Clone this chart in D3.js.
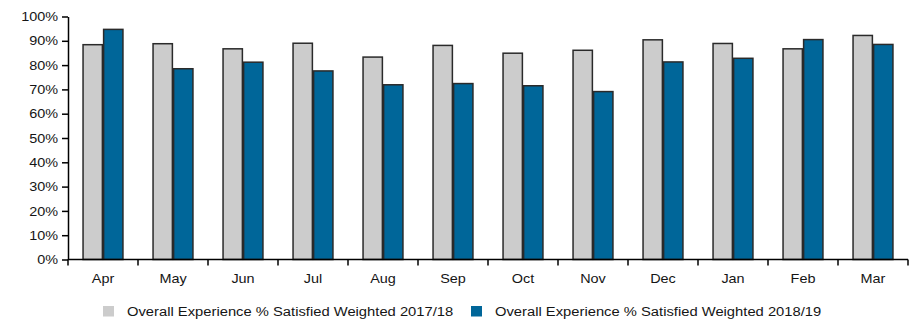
<!DOCTYPE html>
<html>
<head>
<meta charset="utf-8">
<script src="https://cdn.jsdelivr.net/npm/d3@7"></script>
<style>
  html, body { margin: 0; padding: 0; background: #fff; }
  svg { display: block; font-family: "Liberation Sans", Arial, sans-serif; }
</style>
</head>
<body>
<svg id="chart" width="915" height="320"></svg>
<script>
// Monthly satisfaction, two financial years
const months = ["Apr", "May", "Jun", "Jul", "Aug", "Sep", "Oct", "Nov", "Dec", "Jan", "Feb", "Mar"];
const series = ["Overall Experience % Satisfied Weighted 2017/18", "Overall Experience % Satisfied Weighted 2018/19"];
const values2017 = [88.4, 88.8, 86.7, 89.0, 83.3, 88.1, 84.9, 86.1, 90.4, 88.9, 86.7, 92.2];
const values2018 = [94.7, 78.5, 81.2, 77.6, 71.9, 72.4, 71.5, 69.1, 81.3, 82.8, 90.5, 88.5];
const yTicks = [0, 10, 20, 30, 40, 50, 60, 70, 80, 90, 100];
const colors = ["#cccccc", "#006699"];

const svg = d3.select("#chart");
const plotLeft = 68, plotRight = 908, plotTop = 16.5, plotBottom = 259.5;
const textStretch = 1.11;   // slightly wide lettering
const textColor = "#151515";

const x = d3.scaleBand().domain(months).range([plotLeft, plotRight]).paddingInner(0.43).paddingOuter(0.215);
const x1 = d3.scaleBand().domain([0, 1]).range([0, x.bandwidth()]).paddingInner(0.06);
const y = d3.scaleLinear().domain([0, 100]).range([plotBottom, plotTop]);

// Bars
const rows = months.map((m, i) => ({ m, v: [values2017[i], values2018[i]] }));
const g = svg.append("g").selectAll("g").data(rows).join("g")
  .attr("transform", d => `translate(${x(d.m)},0)`);
g.selectAll("rect").data(d => d.v.map((v, k) => ({ v, k }))).join("rect")
  .attr("x", d => x1(d.k))
  .attr("width", x1.bandwidth())
  .attr("y", d => y(d.v))
  .attr("height", d => y(0) - y(d.v))
  .attr("fill", d => colors[d.k])
  .attr("stroke", "#2a2a2a")
  .attr("stroke-width", 1.5);

// Y axis
const yAxis = svg.append("g").attr("transform", `translate(${plotLeft},0)`)
  .call(d3.axisLeft(y).tickValues(yTicks).tickFormat(d => d + "%").tickSize(6).tickSizeOuter(0));
yAxis.select(".domain").attr("stroke", "#000").attr("stroke-width", 1.5);
yAxis.selectAll(".tick line").attr("stroke", "#000").attr("stroke-width", 1.5);
yAxis.selectAll("text")
  .attr("font-size", 13).attr("fill", textColor)
  .attr("font-family", "Liberation Sans, Arial, sans-serif")
  .attr("x", 0)
  .attr("transform", `translate(-10,0) scale(${textStretch},1)`);

// X axis with ticks at category boundaries
const step = x.step();
const xAxis = svg.append("g").attr("transform", `translate(0,${plotBottom})`);
xAxis.append("line").attr("x1", plotLeft).attr("x2", plotRight).attr("stroke", "#000").attr("stroke-width", 1.5);
xAxis.selectAll("line.tk").data(months.map((m, i) => plotLeft + i * step).concat([plotRight])).join("line")
  .attr("class", "tk")
  .attr("x1", d => d).attr("x2", d => d).attr("y1", 0).attr("y2", 6)
  .attr("stroke", "#000").attr("stroke-width", 1.5);
xAxis.selectAll("text").data(months).join("text")
  .attr("transform", d => `translate(${x(d) + x.bandwidth() / 2},23) scale(${textStretch},1)`)
  .attr("text-anchor", "middle")
  .attr("font-size", 13)
  .attr("fill", textColor)
  .text(d => d);

// Legend
const legendPos = [{ sx: 103, tx: 127 }, { sx: 471, tx: 495 }];
const lg = svg.append("g").selectAll("g").data(series).join("g");
lg.append("rect")
  .attr("x", (d, i) => legendPos[i].sx).attr("y", 306)
  .attr("width", 11).attr("height", 10.5)
  .attr("fill", (d, i) => colors[i]);
lg.append("text")
  .attr("transform", (d, i) => `translate(${legendPos[i].tx},316.3) scale(${textStretch},1)`)
  .attr("font-size", 13.3)
  .attr("fill", textColor)
  .text(d => d);
</script>
</body>
</html>
